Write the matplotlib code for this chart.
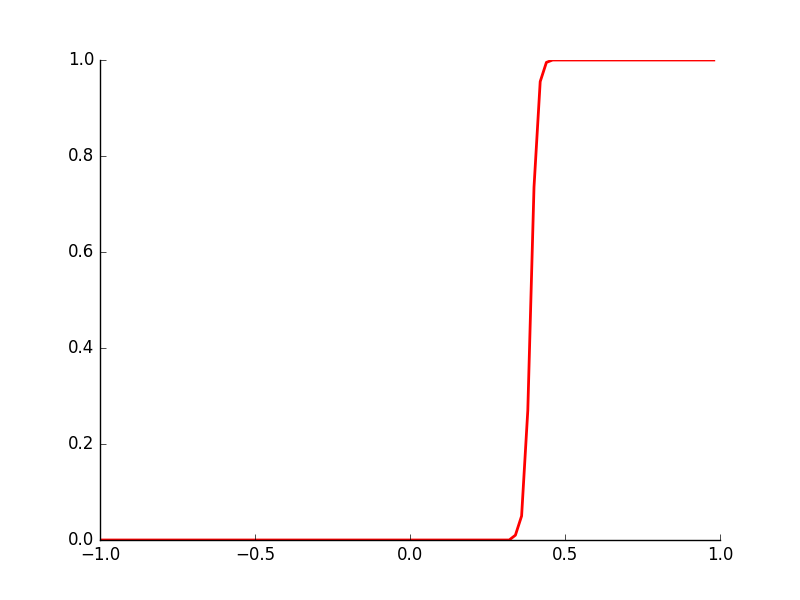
import matplotlib
matplotlib.use("Agg")
import matplotlib.pyplot as plt

plt.style.use("classic")

# breakpoints of the curve (flat at 0, steep rise, flat at 1)
x_vals = [-1.0, 0.32, 0.34, 0.36, 0.38, 0.40, 0.42, 0.44, 0.46, 0.98]
y_vals = [0.0, 0.0, 0.01, 0.05, 0.27, 0.735, 0.955, 0.995, 1.0, 1.0]

x_ticks = [-1.0, -0.5, 0.0, 0.5, 1.0]
y_ticks = [0.0, 0.2, 0.4, 0.6, 0.8, 1.0]

fig = plt.figure(figsize=(8, 6), dpi=100, facecolor="white")
ax = fig.add_axes([0.125, 0.1, 0.775, 0.8])
ax.plot(x_vals, y_vals, color="red", lw=2)
ax.set_xlim(-1.0, 1.0)
ax.set_ylim(0.0, 1.0)
ax.set_xticks(x_ticks)
ax.set_yticks(y_ticks)
ax.spines["top"].set_visible(False)
ax.spines["right"].set_visible(False)
ax.xaxis.set_ticks_position("bottom")
ax.yaxis.set_ticks_position("left")
fig.savefig("out.png", dpi=100, facecolor="white")
